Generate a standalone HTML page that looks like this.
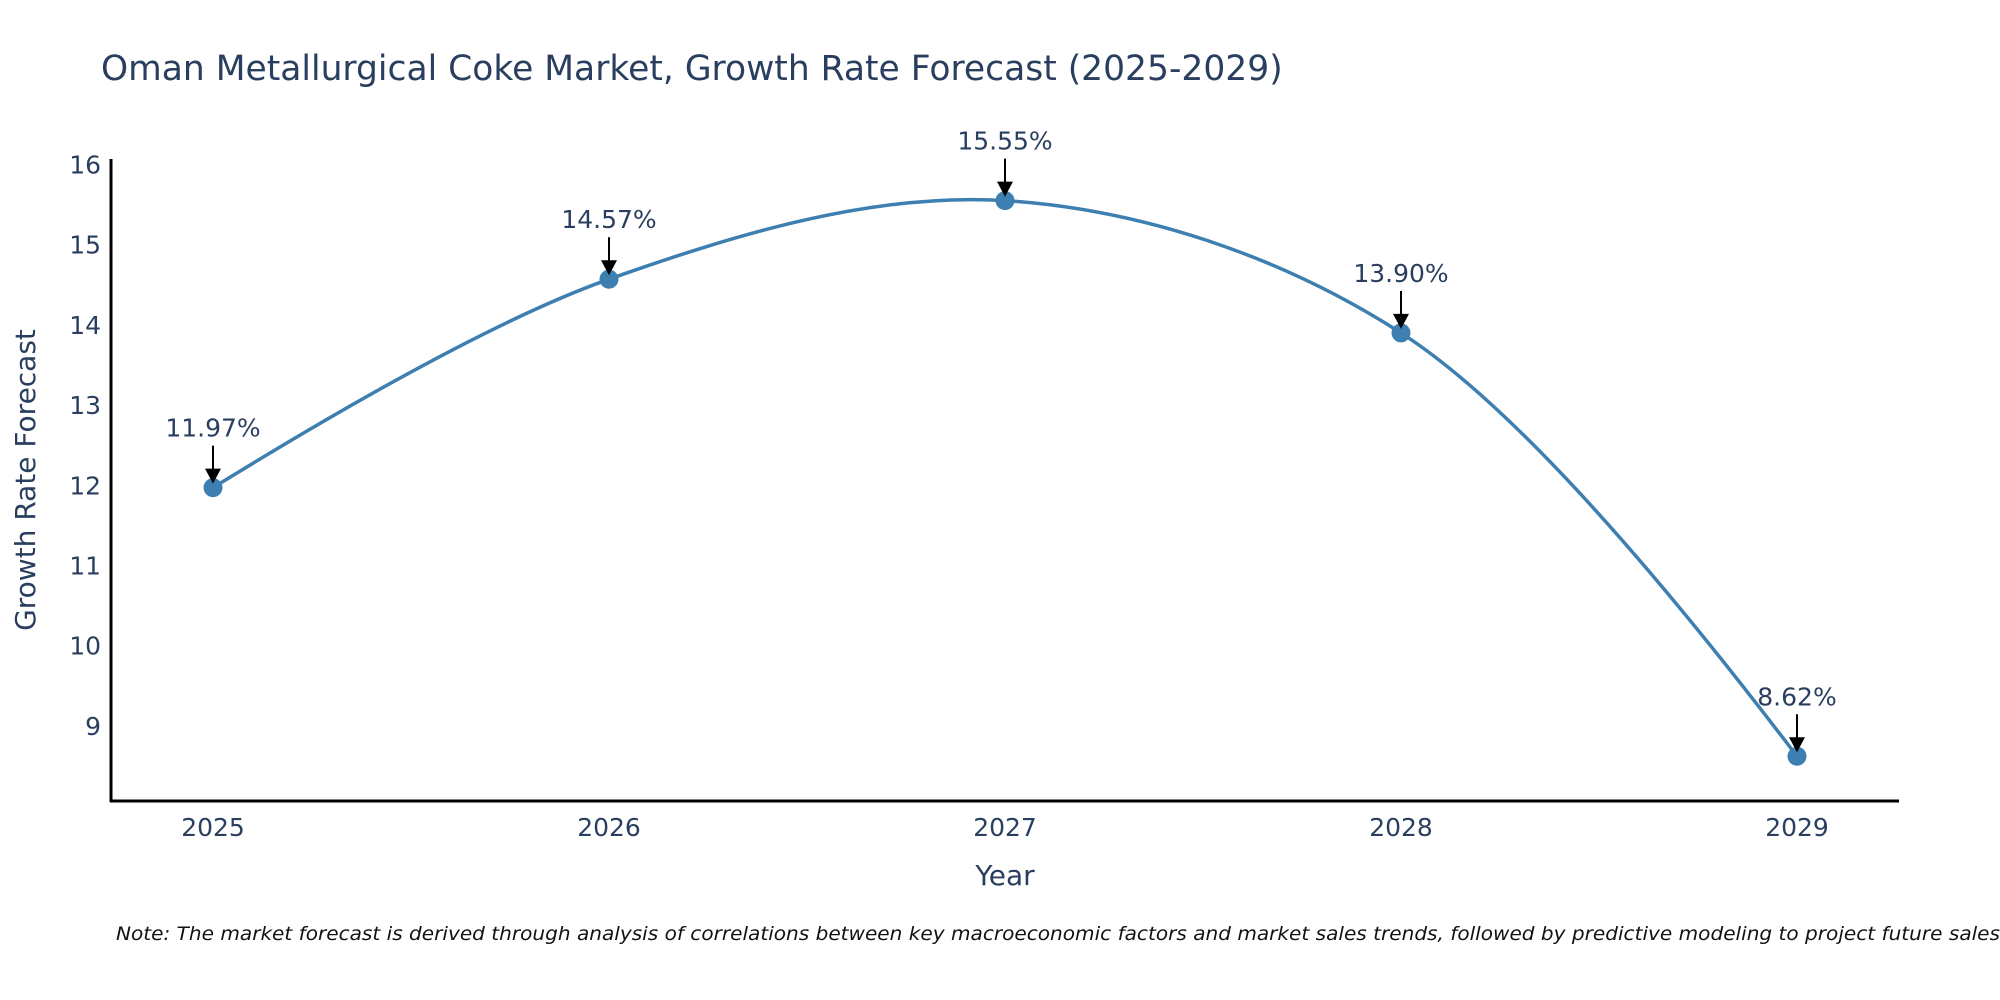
<!DOCTYPE html>
<html><head><meta charset="utf-8"><style>
html,body{margin:0;padding:0;background:#fff;}
svg{display:block;font-family:"DejaVu Sans","Liberation Sans",sans-serif;}
</style></head><body>
<svg id="chart" width="2000" height="1000" viewBox="0 0 2000 1000">
<text x="101" y="80" font-size="34.5" fill="#2a3f5f">Oman Metallurgical Coke Market, Growth Rate Forecast (2025-2029)</text>
<g id="yticks"></g>
<g id="xticks"></g>
<line x1="111" y1="159" x2="111" y2="802" stroke="#000" stroke-width="3"/>
<line x1="110" y1="801" x2="1899" y2="801" stroke="#000" stroke-width="3"/>
<text transform="translate(35,480) rotate(-90)" text-anchor="middle" font-size="28" fill="#2a3f5f">Growth Rate Forecast</text>
<text x="1005" y="885" text-anchor="middle" font-size="28" fill="#2a3f5f">Year</text>
<g id="series"></g>
<text x="116" y="940" font-size="19" font-style="italic" fill="#111" textLength="1884" lengthAdjust="spacingAndGlyphs">Note: The market forecast is derived through analysis of correlations between key macroeconomic factors and market sales trends, followed by predictive modeling to project future sales</text>
</svg>
<script>
const years = ["2025","2026","2027","2028","2029"];
const values = [11.97, 14.57, 15.55, 13.90, 8.62];
const labels = ["11.97%","14.57%","15.55%","13.90%","8.62%"];
const yTicks = [9,10,11,12,13,14,15,16];

const NS="http://www.w3.org/2000/svg";
function xPos(i){return 213 + i*(1797-213)/(years.length-1);}
function yPos(v){return 725.8 - (v-9)*80.18;}
function mk(tag,attrs,parent){const e=document.createElementNS(NS,tag);for(const k in attrs)e.setAttribute(k,attrs[k]);parent.appendChild(e);return e;}

const yt=document.getElementById('yticks');
yTicks.forEach(t=>{
  const e=mk('text',{x:101,y:yPos(t)+9,'text-anchor':'end','font-size':25,fill:'#2a3f5f'},yt);
  
  
  e.textContent=t;
});
const xt=document.getElementById('xticks');
years.forEach((y,i)=>{
  const e=mk('text',{x:xPos(i),y:836,'text-anchor':'middle','font-size':25,fill:'#2a3f5f'},xt);
  
  
  e.textContent=y;
});

const s=document.getElementById('series');
const pts=values.map((v,i)=>[xPos(i),yPos(v)]);
function tangent(p0,p1,p2,sm){
  const d1x=p0[0]-p1[0],d1y=p0[1]-p1[1],d2x=p2[0]-p1[0],d2y=p2[1]-p1[1];
  const d1a=Math.pow(d1x*d1x+d1y*d1y,0.25),d2a=Math.pow(d2x*d2x+d2y*d2y,0.25);
  const nx=(d2a*d2a*d1x-d1a*d1a*d2x)*sm,ny=(d2a*d2a*d1y-d1a*d1a*d2y)*sm;
  const den1=3*d2a*(d1a+d2a),den2=3*d1a*(d1a+d2a);
  return [[p1[0]+nx/den1,p1[1]+ny/den1],[p1[0]-nx/den2,p1[1]-ny/den2]];
}
const tg=[];
for(let i=1;i<pts.length-1;i++)tg.push(tangent(pts[i-1],pts[i],pts[i+1],1));
let d='M'+pts[0]+'Q'+tg[0][0]+' '+pts[1];
for(let i=2;i<pts.length-1;i++)d+='C'+tg[i-2][1]+' '+tg[i-1][0]+' '+pts[i];
d+='Q'+tg[tg.length-1][1]+' '+pts[pts.length-1];
const line=mk('path',{d:d,fill:'none',stroke:'#3d7fb0','stroke-width':3.5},s);


pts.forEach((p,i)=>{
  const c=mk('circle',{cx:p[0],cy:p[1],r:9.5,fill:'#3d7fb0'},s);
  
  
  const a=mk('line',{x1:p[0],y1:p[1]-42,x2:p[0],y2:p[1]-16,stroke:'#000','stroke-width':2},s);
  
  
  const h=mk('path',{d:`M${p[0]-8},${p[1]-19} L${p[0]+8},${p[1]-19} L${p[0]},${p[1]-4} Z`,fill:'#000'},s);
  
  
  const t=mk('text',{x:p[0],y:p[1]-51,'text-anchor':'middle','font-size':25,fill:'#2a3f5f'},s);
  
  
  t.textContent=labels[i];
});
</script>
</body></html>
